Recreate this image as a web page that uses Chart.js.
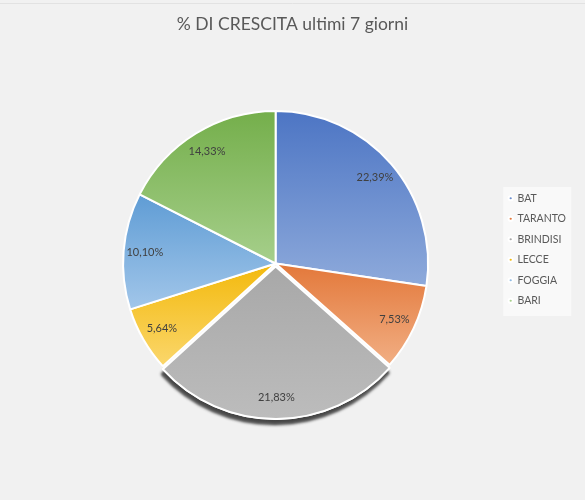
<!DOCTYPE html>
<html>
<head>
<meta charset="utf-8">
<script src="https://cdn.jsdelivr.net/npm/chart.js@4.4.1/dist/chart.umd.min.js"></script>
<style>
  html, body { margin: 0; padding: 0; background: #f1f1f1; }
  #wrap { width: 585px; height: 500px; }
</style>
</head>
<body>
<div id="wrap"><canvas id="pie-chart" width="585" height="500"></canvas></div>
<script>
// data
const cities = ['BAT', 'TARANTO', 'BRINDISI', 'LECCE', 'FOGGIA', 'BARI'];
const growth = [22.39, 7.53, 21.83, 5.64, 10.10, 14.33];

// slice colours, darker at the top and lighter at the bottom of each slice
const topColors = ['#4a73c3', '#e3783a', '#a8a8a8', '#f3b90c', '#5d9bd4', '#72ad48'];
const bottomColors = ['#8eaadb', '#f2b187', '#bdbdbd', '#fbd870', '#a3c7ea', '#a6cf8b'];

function sliceGradient(context) {
    const chart = context.chart;
    const area = chart.chartArea;
    const i = context.dataIndex;
    if (!area) return topColors[i];
    const cx = (area.left + area.right) / 2;
    const cy = (area.top + area.bottom) / 2;
    const r = Math.min(area.width, area.height) / 2;
    const total = growth.reduce((a, b) => a + b, 0);
    let before = 0;
    for (let k = 0; k < i; k++) before += growth[k];
    const s = -Math.PI / 2 + before / total * 2 * Math.PI;
    const e = s + growth[i] / total * 2 * Math.PI;
    let ys = [cy, cy + r * Math.sin(s), cy + r * Math.sin(e)];
    if (s <= Math.PI / 2 && e >= Math.PI / 2) ys.push(cy + r);
    if (s <= -Math.PI / 2 + 0.001 || e >= 1.5 * Math.PI - 0.001) ys.push(cy - r);
    const g = chart.ctx.createLinearGradient(0, Math.min(...ys), 0, Math.max(...ys));
    g.addColorStop(0, topColors[i]);
    g.addColorStop(1, bottomColors[i]);
    return g;
}

function legendBlockTop(lg) {
    const pad = lg.options.labels.padding;
    return (lg.top + pad + lg.bottom - lg.columnSizes[0].height) / 2;
}

// background, legend panel, shadow under the grey slice
const decorations = {
    id: 'decorations',
    beforeDraw(chart) {
        const c = chart.ctx;
        c.save();
        c.fillStyle = '#f1f1f1';
        c.fillRect(0, 0, chart.width, chart.height);
        c.strokeStyle = '#e2e2e2';
        c.lineWidth = 1;
        c.beginPath();
        c.moveTo(0, 3.5); c.lineTo(chart.width, 3.5);
        c.stroke();
        const lg = chart.legend;
        if (lg && lg.columnSizes && lg.columnSizes.length) {
            const y0 = legendBlockTop(lg);
            const h = lg.columnSizes[0].height;
            c.fillStyle = '#f9f9f9';
            c.fillRect(lg.left + 4, y0 - 6, 68, h + 6);
        }
        c.restore();
    },
    afterLayout(chart) {
        // title centred on the whole canvas, legend a bit right of and above the pie centre
        const area = chart.chartArea;
        chart.titleBlock.left = 0;
        chart.titleBlock.right = chart.width;
        const lg = chart.legend;
        const cy = (area.top + area.bottom) / 2 - 14;
        const h = lg.height;
        lg.top = cy - h / 2;
        lg.bottom = cy + h / 2;
        lg.left += 9;
        lg.right += 9;
    },
    beforeDatasetsDraw(chart) {
        const meta = chart.getDatasetMeta(0);
        const arc = meta.data[2];
        if (!arc) return;
        const c = chart.ctx;
        c.save();
        c.shadowColor = 'rgba(40,40,40,0.85)';
        c.shadowBlur = 3;
        c.shadowOffsetX = -1;
        c.shadowOffsetY = 5;
        arc.draw(c);
        c.restore();
    }
};

// percentage labels inside the slices
const sliceLabels = {
    id: 'sliceLabels',
    afterDatasetsDraw(chart) {
        const c = chart.ctx;
        const meta = chart.getDatasetMeta(0);
        c.save();
        c.font = '11px Lato, "Liberation Sans", sans-serif';
        c.fillStyle = '#404040';
        c.textAlign = 'center';
        c.textBaseline = 'middle';
        meta.data.forEach((arc, i) => {
            const p = arc.getProps(['x', 'y', 'startAngle', 'endAngle', 'outerRadius'], true);
            const mid = (p.startAngle + p.endAngle) / 2;
            const off = (arc.options.offset || 0) / 4;
            const r = p.outerRadius * 0.86 + off;
            const text = growth[i].toFixed(2).replace('.', ',') + '%';
            c.fillText(text, p.x + Math.cos(mid) * r, p.y + Math.sin(mid) * r);
        });
        c.restore();
    }
};

const ctx = document.getElementById('pie-chart').getContext('2d');

new Chart(ctx, {
    type: 'pie',
    data: {
        labels: cities,
        datasets: [{
            data: growth,
            backgroundColor: sliceGradient,
            borderColor: '#ffffff',
            borderWidth: 2,
            offset: [0, 0, 12, 0, 0, 0]
        }]
    },
    options: {
        responsive: false,
        animation: false,
        devicePixelRatio: 1,
        layout: {
            padding: { left: 61, right: 18, top: 0, bottom: 77 }
        },
        plugins: {
            title: {
                display: true,
                text: '% DI CRESCITA ultimi 7 giorni',
                color: '#595959',
                font: { family: 'Lato, "Liberation Sans", sans-serif', size: 17.5, weight: 'normal' },
                padding: { top: 14, bottom: 69 }
            },
            legend: {
                position: 'right',
                align: 'center',
                labels: {
                    usePointStyle: true,
                    pointStyle: 'circle',
                    boxWidth: 3,
                    boxHeight: 3,
                    padding: 10,
                    color: '#595959',
                    font: { family: 'Lato, "Liberation Sans", sans-serif', size: 10.5 }
                }
            },
            tooltip: { enabled: false }
        }
    },
    plugins: [decorations, sliceLabels]
});
</script>
</body>
</html>
